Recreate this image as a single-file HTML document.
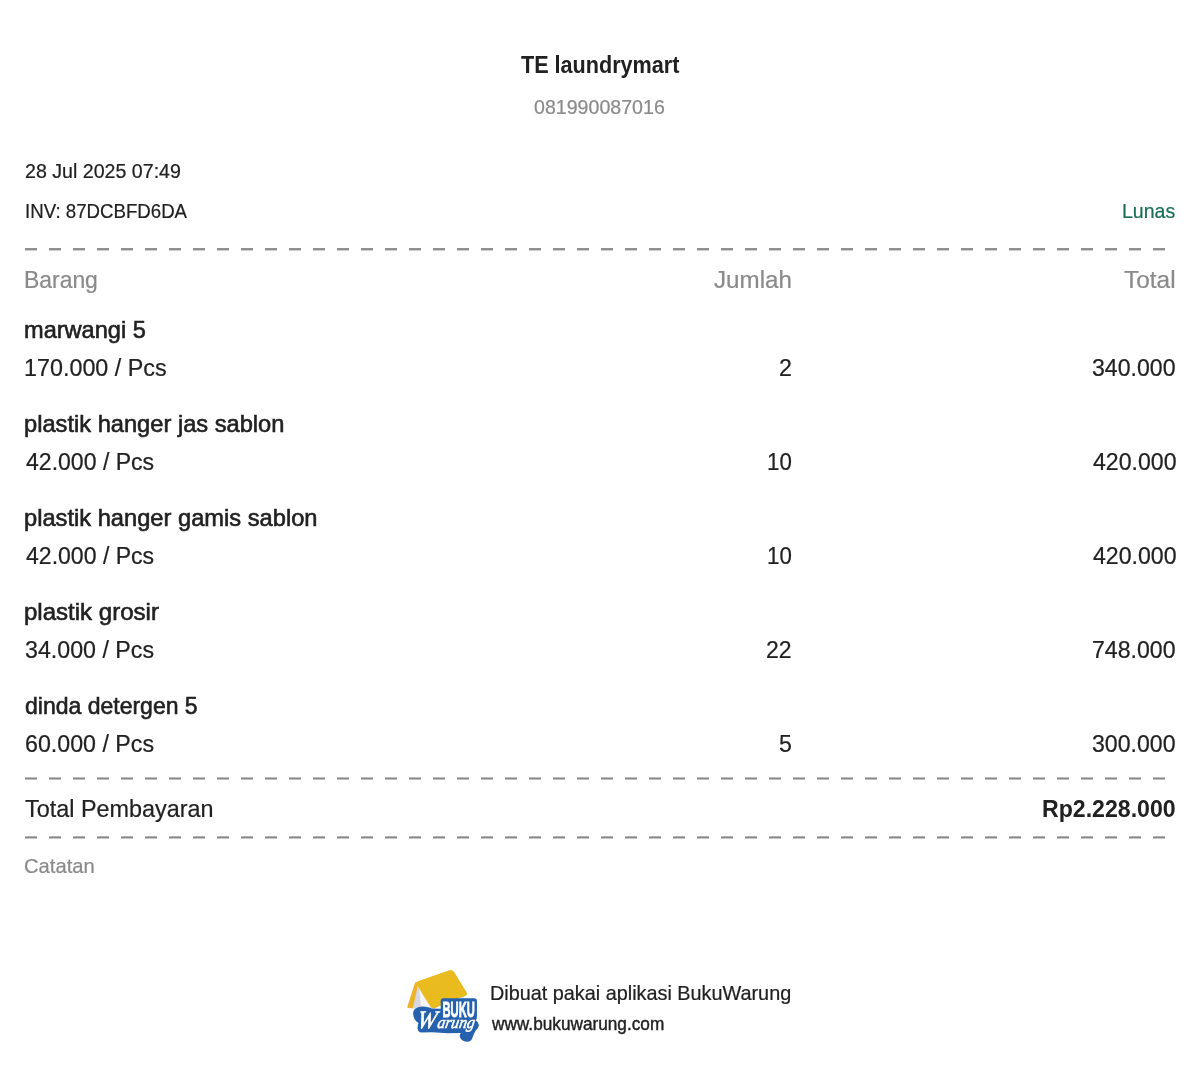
<!DOCTYPE html>
<html lang="id">
<head>
<meta charset="utf-8">
<title>TE laundrymart</title>
<style>
html,body{margin:0;padding:0;background:#fff;}
body{width:1200px;height:1066px;position:relative;overflow:hidden;font-family:"Liberation Sans",sans-serif;color:#212121;}
.t{position:absolute;white-space:nowrap;line-height:1;margin:0;padding:0;transform-origin:0 0;-webkit-text-stroke:0.22px currentColor;}
.b{font-weight:bold;-webkit-text-stroke:0;}
.m{-webkit-text-stroke:0.6px currentColor;}
#f2{-webkit-text-stroke:0.4px currentColor;}
.dash{position:absolute;left:25px;width:1152px;height:3px;background:repeating-linear-gradient(90deg,var(--a) 0,var(--a) 12px,transparent 12px,transparent 24px) 0 0/100% 1px no-repeat,repeating-linear-gradient(90deg,var(--b) 0,var(--b) 12px,transparent 12px,transparent 24px) 0 1px/100% 1px no-repeat,repeating-linear-gradient(90deg,var(--c) 0,var(--c) 12px,transparent 12px,transparent 24px) 0 2px/100% 1px no-repeat;}
</style>
</head>
<body>
<div class="t b" id="title" style="left:521.30px;top:53px;font-size:24px;transform:scaleX(0.9000);">TE laundrymart</div>
<div class="t" id="phone" style="left:534.45px;top:98px;font-size:19.7px;color:#8a8a8a;transform:scaleX(0.9955);">081990087016</div>
<div class="t" id="date" style="left:25.00px;top:161px;font-size:20.2px;transform:scaleX(0.9713);">28 Jul 2025 07:49</div>
<div class="t" id="inv" style="left:24.70px;top:201px;font-size:20.2px;transform:scaleX(0.9241);">INV: 87DCBFD6DA</div>
<div class="t" id="lunas" style="left:1122.30px;top:201px;font-size:20.2px;color:#1a6e57;transform:scaleX(0.9667);">Lunas</div>
<div class="dash" style="top:248px;--a:#929292;--b:#8c8c8c;--c:#d0d0d0;"></div>
<div class="t" id="hbarang" style="left:23.75px;top:268px;font-size:24.6px;color:#8a8a8a;transform:scaleX(0.9312);">Barang</div>
<div class="t" id="hjumlah" style="left:714.20px;top:268px;font-size:24.6px;color:#8a8a8a;transform:scaleX(0.9821);">Jumlah</div>
<div class="t" id="htotal" style="left:1124.20px;top:268px;font-size:24.6px;color:#8a8a8a;transform:scaleX(0.9926);">Total</div>
<div class="t m" id="n1" style="left:24.20px;top:318px;font-size:24.0px;transform:scaleX(0.9821);">marwangi 5</div>
<div class="t" id="p1" style="left:24.25px;top:356px;font-size:24.6px;transform:scaleX(0.9487);">170.000 / Pcs</div>
<div class="t" id="q1" style="left:779.45px;top:356px;font-size:24.6px;transform:scaleX(0.9417);">2</div>
<div class="t" id="t1" style="left:1092.05px;top:356px;font-size:24.6px;transform:scaleX(0.9398);">340.000</div>
<div class="t m" id="n2" style="left:23.95px;top:412px;font-size:24.0px;transform:scaleX(0.9859);">plastik hanger jas sablon</div>
<div class="t" id="p2" style="left:25.80px;top:450px;font-size:24.6px;transform:scaleX(0.9372);">42.000 / Pcs</div>
<div class="t" id="q2" style="left:767.20px;top:450px;font-size:24.6px;transform:scaleX(0.9063);">10</div>
<div class="t" id="t2" style="left:1092.55px;top:450px;font-size:24.6px;transform:scaleX(0.9398);">420.000</div>
<div class="t m" id="n3" style="left:24.00px;top:506px;font-size:24.0px;transform:scaleX(0.9865);">plastik hanger gamis sablon</div>
<div class="t" id="p3" style="left:25.80px;top:544px;font-size:24.6px;transform:scaleX(0.9372);">42.000 / Pcs</div>
<div class="t" id="q3" style="left:767.20px;top:544px;font-size:24.6px;transform:scaleX(0.9063);">10</div>
<div class="t" id="t3" style="left:1092.55px;top:544px;font-size:24.6px;transform:scaleX(0.9398);">420.000</div>
<div class="t m" id="n4" style="left:24.30px;top:600px;font-size:24.0px;transform:scaleX(1.0015);">plastik grosir</div>
<div class="t" id="p4" style="left:24.80px;top:638px;font-size:24.6px;transform:scaleX(0.9441);">34.000 / Pcs</div>
<div class="t" id="q4" style="left:766.45px;top:638px;font-size:24.6px;transform:scaleX(0.9346);">22</div>
<div class="t" id="t4" style="left:1092.05px;top:638px;font-size:24.6px;transform:scaleX(0.9398);">748.000</div>
<div class="t m" id="n5" style="left:24.75px;top:694px;font-size:24.0px;transform:scaleX(0.9583);">dinda detergen 5</div>
<div class="t" id="p5" style="left:24.80px;top:732px;font-size:24.6px;transform:scaleX(0.9441);">60.000 / Pcs</div>
<div class="t" id="q5" style="left:779.45px;top:732px;font-size:24.6px;transform:scaleX(0.9417);">5</div>
<div class="t" id="t5" style="left:1092.05px;top:732px;font-size:24.6px;transform:scaleX(0.9398);">300.000</div>
<div class="dash" style="top:777px;--a:#c0c0c0;--b:#858585;--c:#c0c0c0;"></div>
<div class="t" id="tp" style="left:24.75px;top:797px;font-size:24.6px;transform:scaleX(0.9508);">Total Pembayaran</div>
<div class="t b" id="tv" style="left:1042.20px;top:797px;font-size:24.6px;transform:scaleX(0.9400);">Rp2.228.000</div>
<div class="dash" style="top:836px;--a:#b5b5b5;--b:#858585;--c:#cacaca;"></div>
<div class="t" id="cat" style="left:23.75px;top:856px;font-size:20.2px;color:#8a8a8a;transform:scaleX(1.0014);">Catatan</div>
<svg id="logo" width="85" height="85" viewBox="0 0 1066 1066" style="position:absolute;left:400px;top:962px;">
<polygon points="215,300 150,585 400,575" fill="#d6d7e1"/>
<polygon points="240,340 262,565 390,565" fill="#f4f4f8"/>
<path d="M205,245 Q190,250 180,285 L92,560 Q88,578 105,578 L150,580 Q162,578 166,560 L222,300 Z" fill="#ebb32a"/>
<path d="M222,240 L620,102 Q655,92 680,125 L838,385 Q850,410 825,422 L440,578 Q400,590 385,565 L212,290 Q195,255 222,240 Z" fill="#e9bb1f"/>
<path d="M165,650 Q160,590 230,568 Q300,545 400,582 L510,585 L510,490 Q510,455 545,455 L930,455 Q965,455 965,490 L965,690 Q965,715 950,732 Q995,760 988,800 Q985,835 950,860 Q925,900 905,960 Q885,1005 835,1000 Q770,995 752,945 Q745,915 762,890 L600,892 L400,882 L270,885 Q225,880 220,830 Q220,790 232,765 Q170,730 165,650 Z" fill="#2561ad"/>
<text x="736" y="690" font-family="'Liberation Sans',sans-serif" font-weight="bold" font-size="272" fill="#fff" stroke="#fff" stroke-width="10" text-anchor="middle" textLength="405" lengthAdjust="spacingAndGlyphs">BUKU</text>
<g transform="translate(215,832) skewX(-10)" font-family="'Liberation Serif',serif" font-style="italic" fill="#fff" stroke="#fff" stroke-width="7">
<text x="-10" y="0" font-size="315" textLength="240" lengthAdjust="spacingAndGlyphs">W</text>
<text x="245" y="0" font-size="215" textLength="470" lengthAdjust="spacingAndGlyphs">arung</text>
</g>
</svg>
<div class="t" id="f1" style="left:490.25px;top:983px;font-size:20.2px;transform:scaleX(0.9820);">Dibuat pakai aplikasi BukuWarung</div>
<div class="t m" id="f2" style="left:491.95px;top:1016px;font-size:17.7px;transform:scaleX(0.9733);">www.bukuwarung.com</div>
</body>
</html>
